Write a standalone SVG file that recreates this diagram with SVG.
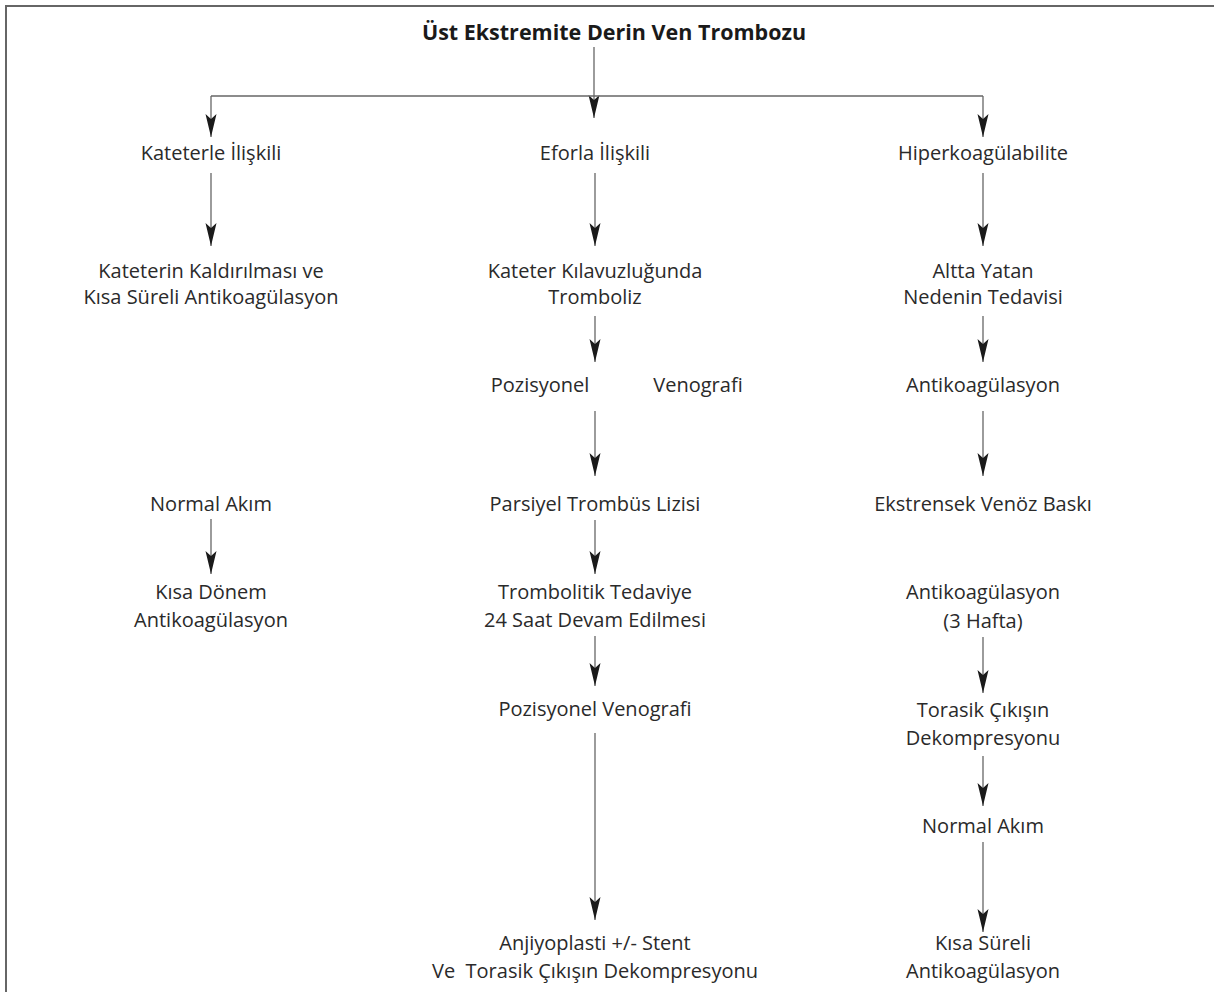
<svg xmlns="http://www.w3.org/2000/svg" width="1214" height="992" viewBox="0 0 1214 992">
<style>
  text { font-family: "Open Sans", "Noto Sans", "Liberation Sans", sans-serif; font-size: 20px; fill: #2a2a2a; text-anchor: middle; }
  .title { font-weight: bold; font-size: 21.5px; fill: #1a1a1a; }
  .ln { stroke: #666; stroke-width: 1.3; fill: none; }
  .ar { stroke: #666; stroke-width: 1.3; fill: none; marker-end: url(#ah); }
  .frame { stroke: #666; stroke-width: 2; fill: none; }
</style>
<defs>
  <marker id="ah" markerUnits="userSpaceOnUse" markerWidth="30" markerHeight="16" viewBox="-25 -8 30 16" refX="0" refY="0" orient="auto">
    <path d="M0,0 L-23,-5.5 L-18,0 L-23,5.5 Z" fill="#1a1a1a"/>
  </marker>
</defs>
<rect width="1214" height="992" fill="#fff"/>
<path class="frame" d="M6,992 V6 H1214"/>

<g id="connectors">
  <line class="ar" x1="594" y1="47" x2="594" y2="118"/>
  <path class="ln" d="M211,96 H983"/>
  <line class="ar" x1="211" y1="96" x2="211" y2="137"/>
  <line class="ar" x1="983" y1="96" x2="983" y2="137"/>
  <!-- left -->
  <line class="ar" x1="211" y1="173" x2="211" y2="246"/>
  <line class="ar" x1="211" y1="519" x2="211" y2="574"/>
  <!-- center -->
  <line class="ar" x1="595" y1="173" x2="595" y2="246"/>
  <line class="ar" x1="595" y1="316" x2="595" y2="362"/>
  <line class="ar" x1="595" y1="411" x2="595" y2="476"/>
  <line class="ar" x1="595" y1="520" x2="595" y2="574"/>
  <line class="ar" x1="595" y1="636" x2="595" y2="686"/>
  <line class="ar" x1="595" y1="733" x2="595" y2="920"/>
  <!-- right -->
  <line class="ar" x1="983" y1="173" x2="983" y2="246"/>
  <line class="ar" x1="983" y1="316" x2="983" y2="362"/>
  <line class="ar" x1="983" y1="411" x2="983" y2="476"/>
  <line class="ar" x1="983" y1="637" x2="983" y2="693"/>
  <line class="ar" x1="983" y1="756" x2="983" y2="806"/>
  <line class="ar" x1="983" y1="842" x2="983" y2="932"/>
</g>

<g id="n-title"><text class="title" x="614" y="40">Üst Ekstremite Derin Ven Trombozu</text></g>

<g id="n-kateterle"><text x="211" y="160">Kateterle İlişkili</text></g>
<g id="n-kaldirilmasi"><text x="211" y="278">Kateterin Kaldırılması ve</text><text x="211" y="304">Kısa Süreli Antikoagülasyon</text></g>
<g id="n-normal-akim-l"><text x="211" y="511">Normal Akım</text></g>
<g id="n-kisa-donem"><text x="211" y="599">Kısa Dönem</text><text x="211" y="627">Antikoagülasyon</text></g>

<g id="n-eforla"><text x="595" y="160">Eforla İlişkili</text></g>
<g id="n-kilavuz"><text x="595" y="278">Kateter Kılavuzluğunda</text><text x="595" y="304">Tromboliz</text></g>
<g id="n-pozisyonel-1"><text x="540" y="392">Pozisyonel</text><text x="698" y="392">Venografi</text></g>
<g id="n-parsiyel"><text x="595" y="511">Parsiyel Trombüs Lizisi</text></g>
<g id="n-trombolitik"><text x="595" y="599">Trombolitik Tedaviye</text><text x="595" y="627">24 Saat Devam Edilmesi</text></g>
<g id="n-pozisyonel-2"><text x="595" y="716">Pozisyonel Venografi</text></g>
<g id="n-anjiyoplasti"><text x="595" y="950">Anjiyoplasti +/- Stent</text><text x="595" y="978" xml:space="preserve">Ve  Torasik Çıkışın Dekompresyonu</text></g>

<g id="n-hiper"><text x="983" y="160">Hiperkoagülabilite</text></g>
<g id="n-altta"><text x="983" y="278">Altta Yatan</text><text x="983" y="304">Nedenin Tedavisi</text></g>
<g id="n-antikoag-1"><text x="983" y="392">Antikoagülasyon</text></g>
<g id="n-ekstrensek"><text x="983" y="511">Ekstrensek Venöz Baskı</text></g>
<g id="n-antikoag-3"><text x="983" y="599">Antikoagülasyon</text><text x="983" y="628">(3 Hafta)</text></g>
<g id="n-torasik"><text x="983" y="717">Torasik Çıkışın</text><text x="983" y="745">Dekompresyonu</text></g>
<g id="n-normal-akim-r"><text x="983" y="833">Normal Akım</text></g>
<g id="n-kisa-sureli"><text x="983" y="950">Kısa Süreli</text><text x="983" y="978">Antikoagülasyon</text></g>
</svg>
